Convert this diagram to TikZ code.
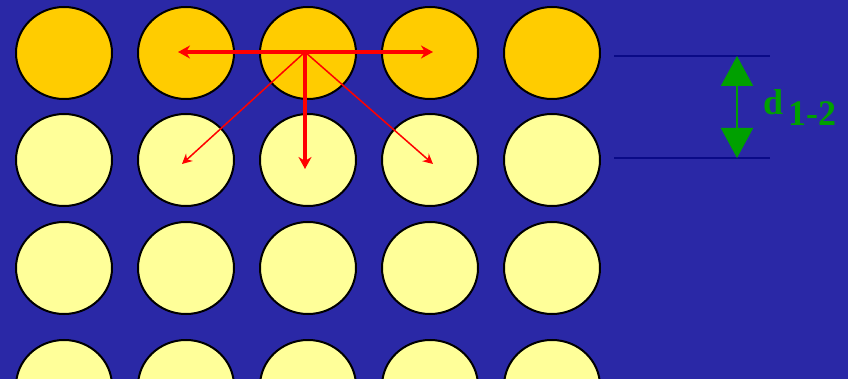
\documentclass[tikz,border=0pt]{standalone}
\usepackage{fontspec}
\setmainfont{Liberation Serif}
\usetikzlibrary{arrows.meta,shapes.geometric}
\definecolor{bgblue}{RGB}{42,40,166}
\definecolor{atomA}{RGB}{255,204,0}
\definecolor{atomB}{RGB}{255,255,153}
\definecolor{arrred}{RGB}{255,0,0}
\definecolor{navy}{RGB}{10,10,135}
\definecolor{dgreen}{RGB}{0,160,0}
\begin{document}
\begin{tikzpicture}[x=1pt,y=-1pt,
  atom/.style={draw=black,line width=2pt,ellipse,minimum width=96pt,minimum height=92pt,inner sep=0pt},
  toprow/.style={atom,fill=atomA},
  lowrow/.style={atom,fill=atomB},
  thick arrow/.style={draw=arrred,line width=3.2pt,-{Stealth[length=12pt,width=13pt]}},
  thin arrow/.style={draw=arrred,line width=1.5pt,-{Stealth[length=10pt,width=10pt]}},
  guide/.style={draw=navy,line width=1.8pt},
  lbl/.style={text=dgreen,inner sep=0pt,font=\bfseries\fontsize{36}{36}\selectfont}]
\fill[bgblue] (0,0) rectangle (848,379);
\useasboundingbox (0,0) rectangle (848,379);
\foreach \i/\x in {1/64,2/186,3/308,4/430,5/552}{
  \node[toprow] (a\i) at (\x,53) {};
  \node[lowrow] (b\i) at (\x,160) {};
  \node[lowrow] (c\i) at (\x,268) {};
  \node[lowrow] (e\i) at (\x,386) {};
}
\coordinate (o) at (305,52);
\coordinate (l) at (178,52);
\coordinate (r) at (433,52);
\coordinate (d) at (305,169);
\coordinate (dl) at (182,164);
\coordinate (dr) at (433,164);
\draw[thin arrow] (o) -- (dl);
\draw[thin arrow] (o) -- (dr);
\draw[thick arrow] (o) -- (l);
\draw[thick arrow] (o) -- (r);
\draw[thick arrow] (o) -- (d);
% spacing marker
\coordinate (g1s) at (614,56);
\coordinate (g1e) at (770,56);
\coordinate (g2s) at (614,158);
\coordinate (g2e) at (770,158);
\draw[guide] (g1s) -- (g1e);
\draw[guide] (g2s) -- (g2e);
\coordinate (m1) at (737,56);
\coordinate (m2) at (737,158);
\draw[draw=dgreen,line width=2pt,{Triangle[length=30pt,width=32pt]}-{Triangle[length=30pt,width=32pt]}] (m1) -- (m2);
\node[lbl,anchor=base west] (dlab) at (763,115) {d\hspace{5pt}\raisebox{-11pt}{1-2}};
\end{tikzpicture}
\end{document}
